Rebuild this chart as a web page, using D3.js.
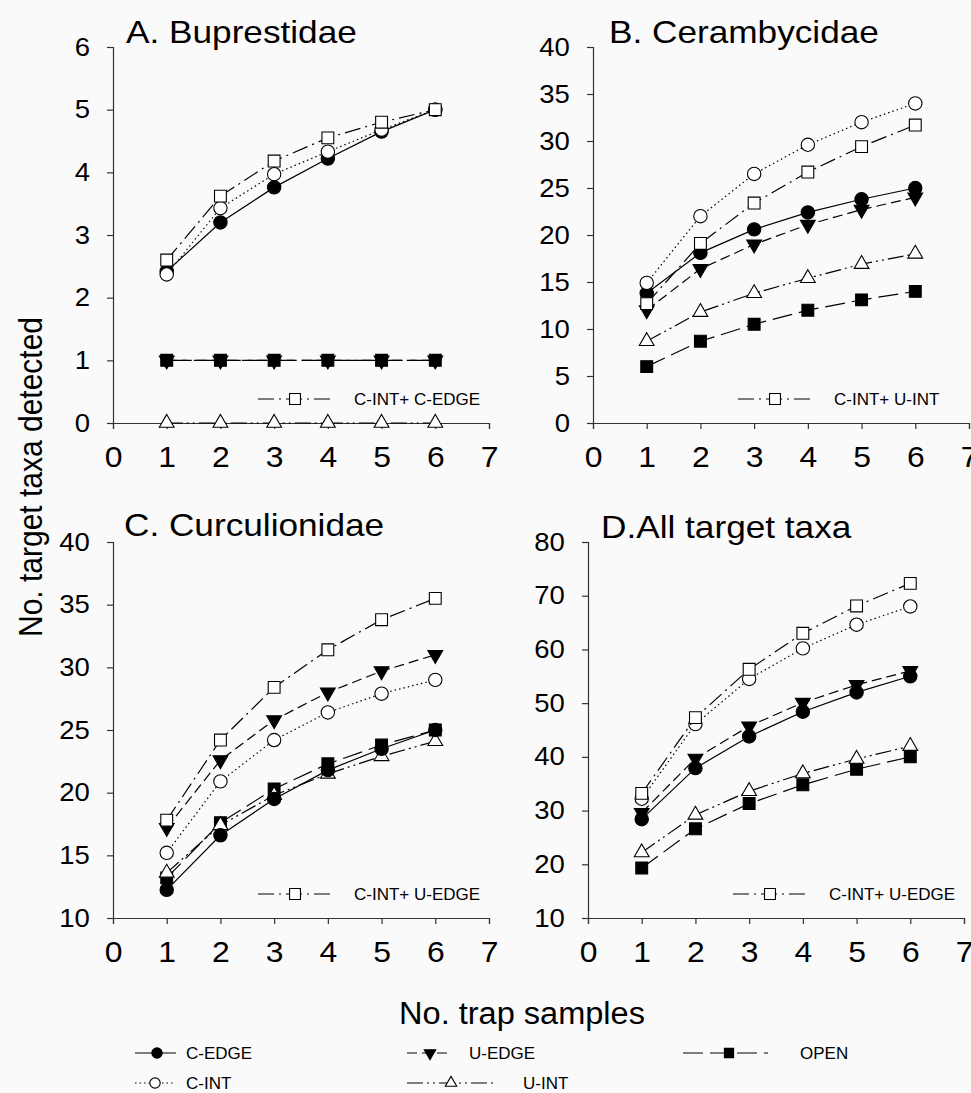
<!DOCTYPE html>
<html>
<head>
<meta charset="utf-8">
<script src="https://cdn.jsdelivr.net/npm/d3@7"></script>
<style>
  body { margin: 0; background: #fafafa; }
  text { font-family: "Liberation Sans", Arial, sans-serif; fill: #000; }
</style>
</head>
<body>
<script>
// x values (trap samples) and x axis ticks
var trapSamples = [1, 2, 3, 4, 5, 6];
var xTicks = [0, 1, 2, 3, 4, 5, 6, 7];

// series order in every value table below
var seriesNames = ["C-EDGE", "C-INT", "U-EDGE", "OPEN", "U-INT", "COMBO"];

// panel titles, combined-series labels and y ticks
var panelTitles = ["A. Buprestidae", "B. Cerambycidae", "C. Curculionidae", "D.All target taxa"];
var comboLabels = ["C-INT+ C-EDGE", "C-INT+ U-INT", "C-INT+ U-EDGE", "C-INT+ U-EDGE"];
var yTicksA = [0, 1, 2, 3, 4, 5, 6];
var yTicksB = [0, 5, 10, 15, 20, 25, 30, 35, 40];
var yTicksC = [10, 15, 20, 25, 30, 35, 40];
var yTicksD = [10, 20, 30, 40, 50, 60, 70, 80];

// values: C-EDGE, C-INT, U-EDGE, OPEN, U-INT, combined
var buprestidae = [
  [2.42, 3.2, 3.76, 4.22, 4.65, 5.0],
  [2.37, 3.43, 3.97, 4.33, 4.68, 5.0],
  [1, 1, 1, 1, 1, 1],
  [1, 1, 1, 1, 1, 1],
  [0, 0, 0, 0, 0, 0],
  [2.6, 3.62, 4.18, 4.55, 4.8, 5.0]
];
var cerambycidae = [
  [13.8, 18.1, 20.6, 22.4, 23.8, 25.0],
  [14.9, 22.0, 26.5, 29.6, 32.0, 34.0],
  [12.0, 16.4, 19.0, 21.1, 22.7, 24.0],
  [6.0, 8.7, 10.5, 12.0, 13.1, 14.0],
  [8.7, 11.8, 13.8, 15.4, 16.9, 18.0],
  [12.7, 19.1, 23.4, 26.7, 29.4, 31.7]
];
var curculionidae = [
  [12.25, 16.6, 19.5, 21.8, 23.5, 25.0],
  [15.2, 20.9, 24.2, 26.4, 27.9, 29.0],
  [17.2, 22.6, 25.8, 28.0, 29.7, 31.0],
  [13.2, 17.6, 20.3, 22.3, 23.8, 25.0],
  [13.6, 17.4, 19.8, 21.5, 22.9, 24.1],
  [17.8, 24.2, 28.4, 31.4, 33.8, 35.5]
];
var allTaxa = [
  [28.4, 37.9, 43.8, 48.4, 52.0, 55.0],
  [32.2, 46.1, 54.5, 60.2, 64.6, 68.0],
  [29.6, 39.7, 45.7, 50.1, 53.4, 56.0],
  [19.3, 26.6, 31.3, 34.8, 37.7, 40.0],
  [22.2, 29.2, 33.6, 36.9, 39.6, 42.0],
  [33.2, 47.3, 56.3, 63.0, 68.1, 72.3]
];

var font = '"Liberation Sans", Arial, sans-serif';
var W = 971, H = 1093;
var stretch = 1.1; // glyphs in the original are a bit wide

var svg = d3.select("body").append("svg")
    .attr("width", W)
    .attr("height", H)
    .style("background", "#fafafa");

// line / marker look of each series
var styles = {
  "C-EDGE": {dash: null, symbol: d3.symbolCircle, size: 140, fill: "#000", rot: 0},
  "C-INT": {dash: "1.5,3", symbol: d3.symbolCircle, size: 140, fill: "#fff", rot: 0},
  "U-EDGE": {dash: "10,5", symbol: d3.symbolTriangle, size: 95, fill: "#000", rot: 180},
  "OPEN": {dash: "20,7", symbol: d3.symbolSquare, size: 140, fill: "#000", rot: 0},
  "U-INT": {dash: "16,4,2,4,2,4", symbol: d3.symbolTriangle, size: 95, fill: "#fff", rot: 0},
  "COMBO": {dash: "16,5,2,5", symbol: d3.symbolSquare, size: 140, fill: "#fff", rot: 0}
};
var drawOrder = ["U-EDGE", "OPEN", "U-INT", "C-EDGE", "C-INT", "COMBO"];

var panels = [
  {values: buprestidae, ticks: yTicksA, left: 113, top: 47, titleX: 126, titleY: 43},
  {values: cerambycidae, ticks: yTicksB, left: 593, top: 47, titleX: 609, titleY: 43},
  {values: curculionidae, ticks: yTicksC, left: 113, top: 542, titleX: 124, titleY: 536},
  {values: allTaxa, ticks: yTicksD, left: 588, top: 542, titleX: 601, titleY: 538}
];
var size = 376;

function marker(g, name, x, y, scale) {
  var s = styles[name];
  g.append("path")
      .attr("d", d3.symbol().type(s.symbol).size(s.size * (scale || 1))())
      .attr("transform", "translate(" + x + "," + y + ") rotate(" + s.rot + ")")
      .style("fill", s.fill)
      .style("stroke", "#000")
      .style("stroke-width", 1.1);
}

// text drawn at (x, y) with slightly widened glyphs
function wideText(parent, x, y, str, fs, sx) {
  return parent.append("text")
      .attr("transform", "translate(" + x + "," + y + ") scale(" + (sx || stretch) + ",1)")
      .style("font-size", fs + "px")
      .text(str);
}

panels.forEach(function(p, i) {
  var g = svg.append("g")
      .attr("transform", "translate(" + p.left + "," + p.top + ")");

  var x = d3.scaleLinear().domain([0, 7]).range([0, size]);
  var y = d3.scaleLinear().domain(d3.extent(p.ticks)).range([size, 0]);

  // axes
  var xAxis = g.append("g")
      .attr("transform", "translate(0," + size + ")")
      .call(d3.axisBottom(x).tickValues(xTicks).tickFormat(d3.format("d"))
        .tickSizeOuter(0).tickSize(6).tickPadding(17));
  var yAxis = g.append("g")
      .call(d3.axisLeft(y).tickValues(p.ticks).tickFormat(d3.format("d"))
        .tickSizeOuter(0).tickSize(6).tickPadding(15));
  [xAxis, yAxis].forEach(function(a) {
    a.select(".domain").style("stroke", "#333").style("stroke-width", 1.2);
    a.selectAll("line").style("stroke", "#333").style("stroke-width", 1.2);
    a.selectAll("text")
        .style("font-family", font)
        .style("fill", "#000")
        .attr("transform", "scale(" + stretch + ",1)");
  });
  xAxis.selectAll("text").style("font-size", "29px");
  yAxis.selectAll("text").style("font-size", "25px");

  // title
  wideText(svg, p.titleX, p.titleY, panelTitles[i], 32);

  // series lines then markers
  var line = d3.line()
      .x(function(d, j) { return x(trapSamples[j]); })
      .y(function(d) { return y(d); });

  drawOrder.forEach(function(name) {
    var vals = p.values[seriesNames.indexOf(name)];
    var s = styles[name];
    g.append("path")
        .datum(vals)
        .attr("d", line)
        .style("fill", "none")
        .style("stroke", "#000")
        .style("stroke-width", 1.2)
        .style("stroke-dasharray", s.dash);
    vals.forEach(function(v, j) {
      marker(g, name, x(trapSamples[j]), y(v));
    });
  });

  // combined-series key inside the panel
  var ly = size - 24;
  g.append("line")
      .attr("x1", 145).attr("x2", 217)
      .attr("y1", ly).attr("y2", ly)
      .style("stroke", "#000")
      .style("stroke-width", 1.1)
      .style("stroke-dasharray", styles.COMBO.dash);
  marker(g, "COMBO", 182, ly, 0.85);
  wideText(g, 241, ly + 6, comboLabels[i], 17, 1.0);
});

// shared axis titles
svg.append("text")
    .attr("transform", "translate(30,477) scale(" + stretch + ",1) rotate(-90)")
    .style("text-anchor", "middle")
    .attr("dy", "0.35em")
    .style("font-size", "30px")
    .text("No. target taxa detected");
wideText(svg, 522, 1024, "No. trap samples", 31, 1.05)
    .style("text-anchor", "middle");

// bottom legend
var legend = [
  {name: "C-EDGE", x1: 135, x2: 176, mx: 157, tx: 186, y: 1053},
  {name: "U-EDGE", x1: 407, x2: 451, mx: 430, tx: 469, y: 1053},
  {name: "OPEN", x1: 683, x2: 768, mx: 729, tx: 800, y: 1053},
  {name: "C-INT", x1: 135, x2: 174, mx: 155, tx: 186, y: 1083},
  {name: "U-INT", x1: 407, x2: 495, mx: 451, tx: 523, y: 1083}
];
legend.forEach(function(l) {
  svg.append("line")
      .attr("x1", l.x1).attr("x2", l.x2)
      .attr("y1", l.y).attr("y2", l.y)
      .style("stroke", "#000")
      .style("stroke-width", 1.1)
      .style("stroke-dasharray", styles[l.name].dash);
  marker(svg, l.name, l.mx, l.y, 0.6);
  wideText(svg, l.tx, l.y + 6, l.name, 17, 1.0);
});
</script>
</body>
</html>
